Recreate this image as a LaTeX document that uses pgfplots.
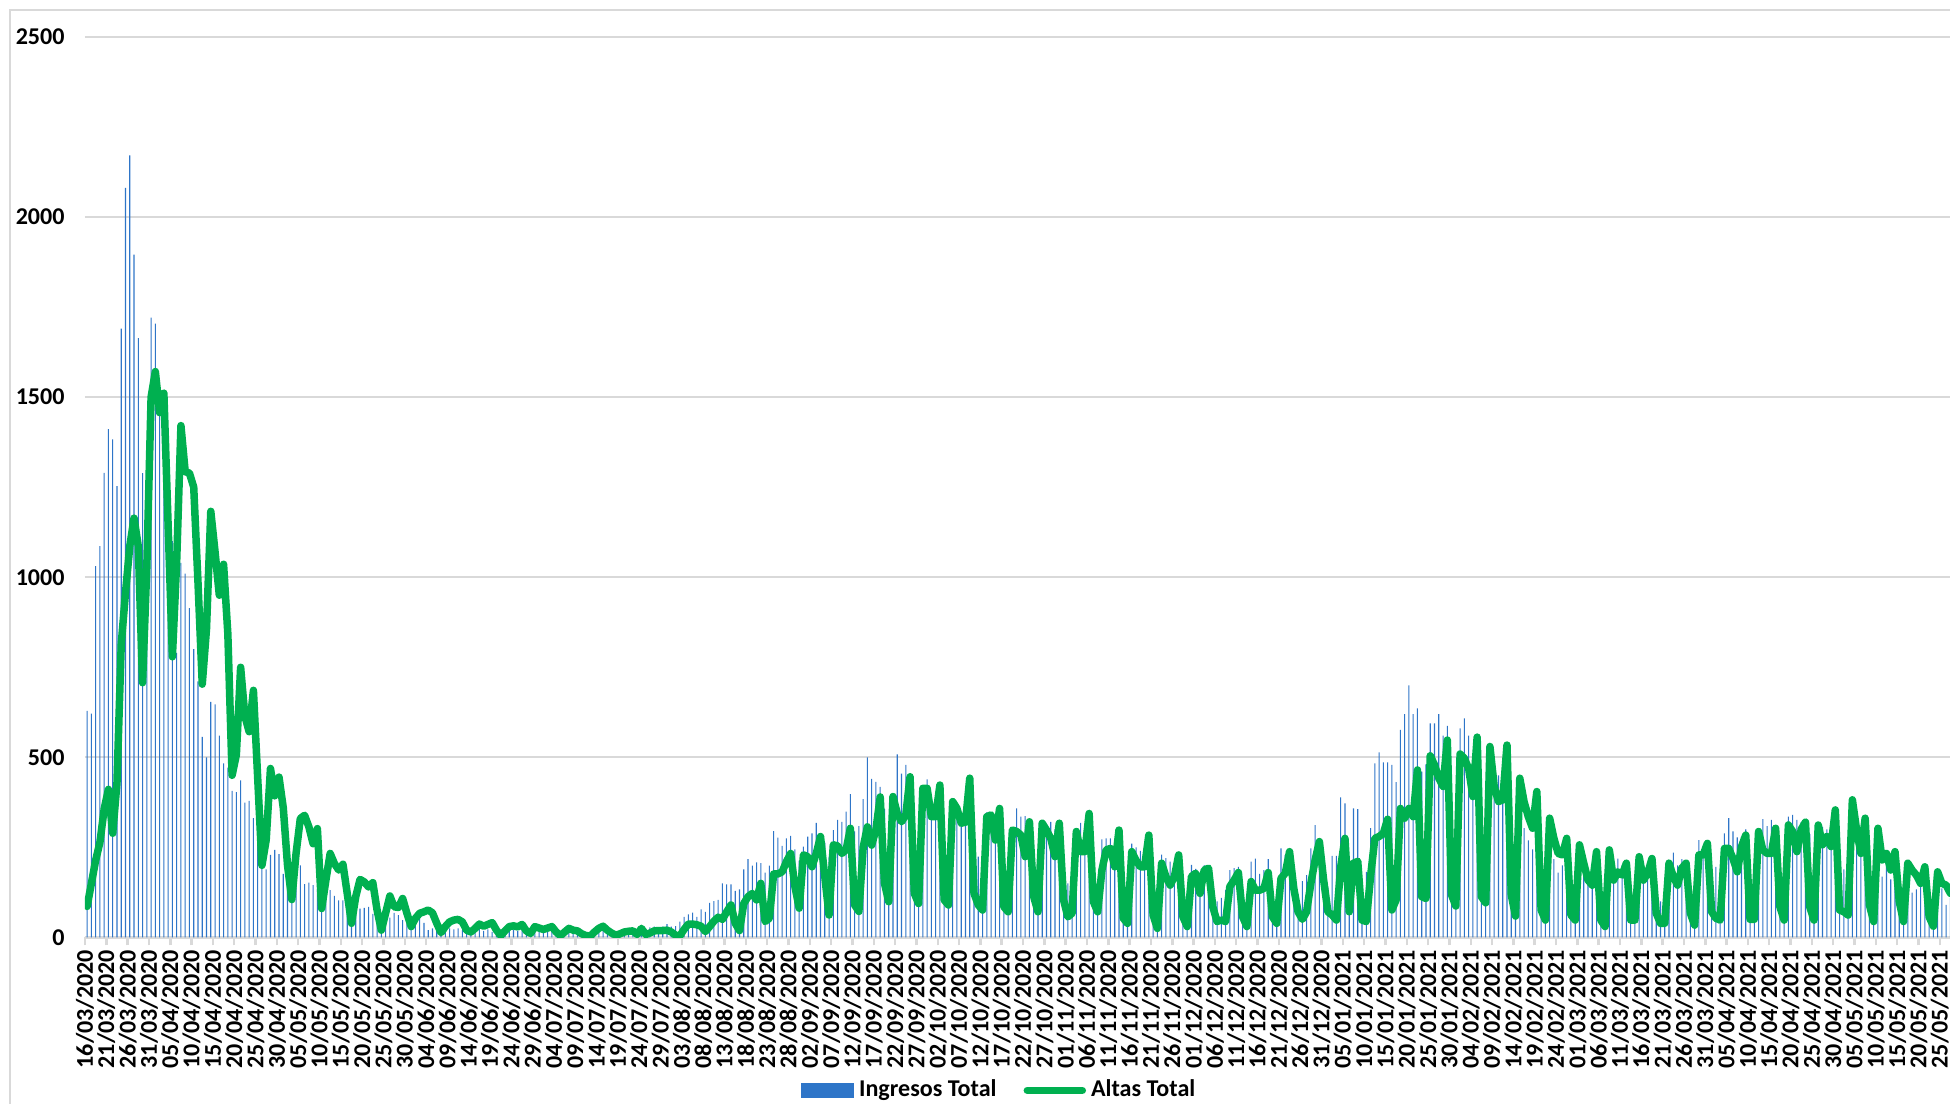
\documentclass[border=0pt]{standalone}
\usepackage{fontspec}
\setmainfont{Carlito}
\usepackage{pgfplots}
\pgfplotsset{compat=1.18}
\usepackage{pgfplotstable}
\usetikzlibrary{calc}

\definecolor{ingblue}{RGB}{46,117,200}
\definecolor{altgreen}{RGB}{0,176,80}
\definecolor{gridgray}{RGB}{217,217,217}
\newcommand{\lblfont}{\fontsize{6.85}{8}\selectfont\bfseries}

% day (0 = 16/03/2020), Ingresos Total, Altas Total
\pgfplotstableread[row sep=\\]{
d ing alt\\
0 629 86\\ 1 621 150\\ 2 1031 214\\ 3 1086 264\\ 4 1290 357\\ 5 1411 411\\ 6 1383 289\\ 7 1253 429\\ 8 1690 814\\ 9 2081 957\\
10 2171 1086\\ 11 1896 1164\\ 12 1664 1086\\ 13 1289 707\\ 14 1350 1029\\ 15 1721 1500\\ 16 1704 1571\\ 17 1457 1457\\ 18 1400 1511\\ 19 1250 1143\\
20 1100 779\\ 21 790 1043\\ 22 1040 1421\\ 23 1010 1293\\ 24 914 1289\\ 25 800 1250\\ 26 711 986\\ 27 557 703\\ 28 500 857\\ 29 654 1183\\
30 647 1071\\ 31 560 950\\ 32 483 1036\\ 33 471 843\\ 34 407 450\\ 35 403 507\\ 36 436 750\\ 37 374 614\\ 38 379 571\\ 39 331 686\\
40 300 443\\ 41 193 200\\ 42 189 271\\ 43 229 469\\ 44 243 393\\ 45 231 445\\ 46 176 360\\ 47 150 200\\ 48 140 105\\ 49 160 233\\
50 200 330\\ 51 148 339\\ 52 152 307\\ 53 145 260\\ 54 134 302\\ 55 100 80\\ 56 110 159\\ 57 131 233\\ 58 115 205\\ 59 103 187\\
60 103 203\\ 61 70 122\\ 62 60 39\\ 63 80 113\\ 64 80 161\\ 65 82 154\\ 66 85 140\\ 67 65 152\\ 68 50 76\\ 69 40 20\\
70 43 67\\ 71 55 115\\ 72 68 85\\ 73 62 83\\ 74 48 108\\ 75 39 67\\ 76 30 30\\ 77 35 53\\ 78 53 67\\ 79 40 71\\
80 20 76\\ 81 25 68\\ 82 18 39\\ 83 20 13\\ 84 22 30\\ 85 25 43\\ 86 22 48\\ 87 25 50\\ 88 20 43\\ 89 18 20\\
90 15 15\\ 91 20 25\\ 92 25 37\\ 93 18 31\\ 94 22 36\\ 95 15 41\\ 96 10 20\\ 97 8 5\\ 98 20 18\\ 99 25 30\\
100 22 32\\ 101 18 29\\ 102 24 36\\ 103 12 18\\ 104 10 11\\ 105 20 30\\ 106 18 26\\ 107 22 22\\ 108 20 26\\ 109 15 30\\
110 8 15\\ 111 6 5\\ 112 15 15\\ 113 20 25\\ 114 18 20\\ 115 16 18\\ 116 12 10\\ 117 6 5\\ 118 8 4\\ 119 18 15\\
120 22 25\\ 121 20 31\\ 122 18 20\\ 123 10 12\\ 124 8 6\\ 125 20 10\\ 126 22 15\\ 127 25 17\\ 128 24 18\\ 129 12 8\\
130 15 25\\ 131 25 8\\ 132 28 12\\ 133 30 18\\ 134 25 19\\ 135 30 19\\ 136 37 20\\ 137 30 15\\ 138 31 6\\ 139 44 4\\
140 57 22\\ 141 64 37\\ 142 69 37\\ 143 57 35\\ 144 78 31\\ 145 71 16\\ 146 96 30\\ 147 101 45\\ 148 104 56\\ 149 150 50\\
150 147 71\\ 151 147 90\\ 152 129 39\\ 153 133 19\\ 154 189 94\\ 155 217 113\\ 156 199 122\\ 157 208 104\\ 158 206 150\\ 159 180 44\\
160 199 53\\ 161 295 176\\ 162 277 176\\ 163 254 182\\ 164 275 210\\ 165 282 233\\ 166 244 141\\ 167 213 81\\ 168 252 229\\ 169 280 224\\
170 289 196\\ 171 318 233\\ 172 266 280\\ 173 263 169\\ 174 224 62\\ 175 298 257\\ 176 326 254\\ 177 321 233\\ 178 349 243\\ 179 398 303\\
180 294 90\\ 181 309 72\\ 182 384 250\\ 183 500 307\\ 184 440 256\\ 185 432 300\\ 186 418 390\\ 187 356 150\\ 188 250 99\\ 189 300 391\\
190 508 344\\ 191 455 321\\ 192 479 340\\ 193 400 446\\ 194 220 122\\ 195 200 94\\ 196 380 414\\ 197 439 414\\ 198 340 335\\ 199 330 335\\
200 400 423\\ 201 200 104\\ 202 180 90\\ 203 350 377\\ 204 340 358\\ 205 320 317\\ 206 330 320\\ 207 400 442\\ 208 220 122\\ 209 224 90\\
210 200 76\\ 211 348 335\\ 212 330 340\\ 213 300 270\\ 214 340 358\\ 215 200 85\\ 216 180 71\\ 217 300 298\\ 218 358 294\\ 219 335 284\\
220 337 224\\ 221 330 321\\ 222 180 113\\ 223 150 71\\ 224 320 317\\ 225 290 298\\ 226 321 275\\ 227 300 224\\ 228 310 317\\ 229 200 104\\
230 150 57\\ 231 180 67\\ 232 300 294\\ 233 318 238\\ 234 280 238\\ 235 300 344\\ 236 160 99\\ 237 140 71\\ 238 272 187\\ 239 275 243\\
240 275 247\\ 241 250 196\\ 242 280 298\\ 243 150 53\\ 244 120 39\\ 245 260 238\\ 246 250 214\\ 247 240 196\\ 248 230 196\\ 249 260 284\\
250 150 62\\ 251 100 25\\ 252 230 206\\ 253 220 169\\ 254 210 145\\ 255 200 169\\ 256 220 229\\ 257 120 57\\ 258 100 30\\ 259 201 169\\
260 190 178\\ 261 180 122\\ 262 200 187\\ 263 190 192\\ 264 130 85\\ 265 100 44\\ 266 110 48\\ 267 131 44\\ 268 187 141\\ 269 192 159\\
270 196 180\\ 271 120 57\\ 272 100 30\\ 273 210 155\\ 274 219 131\\ 275 176 131\\ 276 187 136\\ 277 217 180\\ 278 130 57\\ 279 120 39\\
280 247 164\\ 281 229 178\\ 282 240 238\\ 283 150 136\\ 284 120 71\\ 285 156 50\\ 286 173 71\\ 287 247 150\\ 288 312 215\\ 289 260 266\\
290 180 159\\ 291 140 71\\ 292 226 62\\ 293 226 48\\ 294 389 196\\ 295 372 275\\ 296 200 71\\ 297 358 206\\ 298 356 211\\ 299 150 48\\
300 182 44\\ 301 303 169\\ 302 483 275\\ 303 514 280\\ 304 486 289\\ 305 486 328\\ 306 479 76\\ 307 431 104\\ 308 576 358\\ 309 620 331\\
310 700 358\\ 311 620 335\\ 312 636 465\\ 313 460 113\\ 314 480 108\\ 315 594 504\\ 316 594 479\\ 317 620 442\\ 318 560 419\\ 319 587 548\\
320 400 118\\ 321 350 87\\ 322 580 509\\ 323 608 497\\ 324 560 469\\ 325 500 391\\ 326 540 556\\ 327 350 113\\ 328 300 96\\ 329 500 530\\
330 480 419\\ 331 450 377\\ 332 440 382\\ 333 480 534\\ 334 300 118\\ 335 250 59\\ 336 400 442\\ 337 303 377\\ 338 269 335\\ 339 244 303\\
340 350 405\\ 341 220 76\\ 342 180 48\\ 343 300 331\\ 344 217 275\\ 345 180 233\\ 346 200 229\\ 347 260 275\\ 348 150 62\\ 349 130 48\\
350 240 257\\ 351 200 206\\ 352 180 159\\ 353 170 145\\ 354 220 238\\ 355 120 48\\ 356 100 30\\ 357 220 243\\ 358 190 159\\ 359 219 182\\
360 200 173\\ 361 200 206\\ 362 120 48\\ 363 110 48\\ 364 220 224\\ 365 200 159\\ 366 190 178\\ 367 210 219\\ 368 110 67\\ 369 100 39\\
370 120 39\\ 371 210 206\\ 372 235 169\\ 373 200 145\\ 374 217 192\\ 375 210 206\\ 376 120 67\\ 377 100 34\\ 378 270 229\\ 379 250 229\\
380 229 261\\ 381 150 71\\ 382 196 53\\ 383 180 48\\ 384 289 247\\ 385 331 247\\ 386 294 219\\ 387 278 182\\ 388 280 252\\ 389 300 284\\
390 150 50\\ 391 140 50\\ 392 303 294\\ 393 328 243\\ 394 309 233\\ 395 326 233\\ 396 310 303\\ 397 180 85\\ 398 160 48\\ 399 335 312\\
400 340 294\\ 401 326 238\\ 402 320 300\\ 403 300 320\\ 404 287 85\\ 405 180 48\\ 406 310 312\\ 407 307 257\\ 408 300 280\\ 409 290 252\\
410 320 354\\ 411 200 76\\ 412 189 71\\ 413 170 62\\ 414 330 382\\ 415 284 298\\ 416 250 233\\ 417 300 331\\ 418 150 90\\ 419 120 44\\
420 280 303\\ 421 169 215\\ 422 220 233\\ 423 161 187\\ 424 200 238\\ 425 120 99\\ 426 90 44\\ 427 180 206\\ 428 124 187\\ 429 133 173\\
430 140 150\\ 431 160 196\\ 432 90 57\\ 433 70 31\\ 434 160 182\\ 435 136 150\\ 436 90 145\\ 437 110 122\\
}\datatable

\begin{document}
\begin{tikzpicture}
\begin{axis}[
    scale only axis,
    width=186.5mm, height=90.04mm,
    xmin=-0.5, xmax=436.9,
    ymin=0, ymax=2500,
    axis x line*=bottom, axis y line*=left,
    y axis line style={draw=none},
    x axis line style={gridgray, line width=0.25mm},
    ytick={0,500,...,2500},
    ytick style={draw=none},
    ymajorgrids,
    grid style={gridgray, line width=0.2mm},
    xtick={-0.5,4.5,...,434.5},
    xtick style={gridgray, line width=0.25mm},
    tick align=outside,
    major tick length=0.8mm,
    xticklabels={16/03/2020,21/03/2020,26/03/2020,31/03/2020,05/04/2020,10/04/2020,15/04/2020,20/04/2020,25/04/2020,30/04/2020,
        05/05/2020,10/05/2020,15/05/2020,20/05/2020,25/05/2020,30/05/2020,04/06/2020,09/06/2020,14/06/2020,19/06/2020,
        24/06/2020,29/06/2020,04/07/2020,09/07/2020,14/07/2020,19/07/2020,24/07/2020,29/07/2020,03/08/2020,08/08/2020,
        13/08/2020,18/08/2020,23/08/2020,28/08/2020,02/09/2020,07/09/2020,12/09/2020,17/09/2020,22/09/2020,27/09/2020,
        02/10/2020,07/10/2020,12/10/2020,17/10/2020,22/10/2020,27/10/2020,01/11/2020,06/11/2020,11/11/2020,16/11/2020,
        21/11/2020,26/11/2020,01/12/2020,06/12/2020,11/12/2020,16/12/2020,21/12/2020,26/12/2020,31/12/2020,05/01/2021,
        10/01/2021,15/01/2021,20/01/2021,25/01/2021,30/01/2021,04/02/2021,09/02/2021,14/02/2021,19/02/2021,24/02/2021,
        01/03/2021,06/03/2021,11/03/2021,16/03/2021,21/03/2021,26/03/2021,31/03/2021,05/04/2021,10/04/2021,15/04/2021,
        20/04/2021,25/04/2021,30/04/2021,05/05/2021,10/05/2021,15/05/2021,20/05/2021,25/05/2021},
    x tick label style={rotate=90, anchor=east, font=\lblfont, inner sep=0.4mm},
    y tick label style={font=\lblfont, /pgf/number format/assume math mode=true},
    /pgf/number format/1000 sep={},
    legend columns=2,
    legend style={at={(0.491,-0.17)}, anchor=center, draw=none, fill=none,
        font=\lblfont, inner sep=0pt,
        nodes={inner xsep=0.5mm},
        /tikz/every even column/.append style={column sep=2.2mm}},
]
\addplot[ybar, bar width=0.25, fill=ingblue, draw=none,
    legend image code/.code={\fill[ingblue] (0mm,-0.75mm) rectangle (5.3mm,0.75mm);}]
    table[x=d, y=ing] {\datatable};
\addlegendentry{Ingresos Total}
\addplot[altgreen, line width=0.75mm, line join=round, line cap=round, mark=none,
    legend image code/.code={\draw[altgreen, line width=0.75mm] (0mm,0mm) -- (5.5mm,0mm);}]
    table[x=d, y=alt] {\datatable};
\addlegendentry{Altas Total}
\end{axis}
\coordinate (SW) at (current axis.south west);
\coordinate (NE) at (current axis.north east);
\draw[gridgray, line width=0.25mm] ($(SW)+(-7.5mm,-17mm)$) -- ($(SW|-NE)+(-7.5mm,2.7mm)$) -- ($(NE)+(1mm,2.7mm)$);
\pgfresetboundingbox
\path ($(SW)+(-8.5mm,-16.66mm)$) rectangle ($(NE)+(0mm,3.7mm)$);
\end{tikzpicture}
\end{document}
